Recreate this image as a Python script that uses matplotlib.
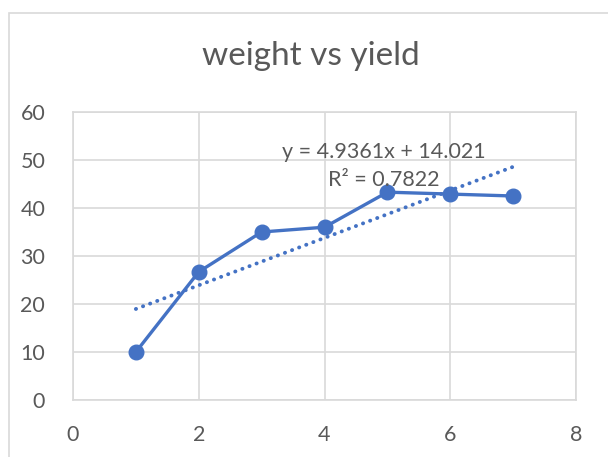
import matplotlib
matplotlib.use('Agg')
import matplotlib.pyplot as plt
from matplotlib.patches import Rectangle
import numpy as np

# data
weight = [1, 2, 3, 4, 5, 6, 7]
yield_ = [10, 26.7, 35, 36, 43.3, 42.9, 42.5]
xticks = [0, 2, 4, 6, 8]
yticks = [0, 10, 20, 30, 40, 50, 60]
eq_label = 'y = 4.9361x + 14.021'
r2_label = 'R² = 0.7822'

blue = '#4472C4'
grey_text = '#595959'
grid_col = '#D9D9D9'

plt.rcParams['font.family'] = ['Lato', 'DejaVu Sans']

fig = plt.figure(figsize=(6.08, 4.57), dpi=100)
# outer chart border, like the Excel chart frame
fig.patches.append(Rectangle((8.5 / 608, -0.01), 1.0, 1 - 12.5 / 457 + 0.01,
                             transform=fig.transFigure, fill=False,
                             edgecolor='#D9D9D9', linewidth=1.2))

ax = fig.add_axes([73 / 608, 1 - 400 / 457, (576 - 73) / 608, (400 - 112) / 457])

# linear trendline
slope, intercept = np.polyfit(weight, yield_, 1)
xt = np.array([weight[0], weight[-1]])
ax.plot(xt, slope * xt + intercept, color=blue, linewidth=2.8,
        linestyle=(0, (0.05, 1.9)), dash_capstyle='round', zorder=3)

ax.plot(weight, yield_, color=blue, linewidth=2.4, marker='o',
        markersize=10.5, zorder=4)

ax.set_xlim(0, 8)
ax.set_ylim(0, 60)
ax.set_xticks(xticks)
ax.set_yticks(yticks)
ax.grid(True, color=grid_col, linewidth=1.2)
ax.set_axisbelow(True)
for s in ax.spines.values():
    s.set_color(grid_col)
    s.set_linewidth(1.2)
ax.tick_params(length=0, labelsize=15.5, colors=grey_text)
ax.tick_params(axis='x', pad=18)
ax.tick_params(axis='y', pad=20)

fig.text(311 / 608, 1 - 56 / 457, 'weight vs yield', ha='center', va='center',
         fontsize=24, color=grey_text)

ax.text(4.95, 51.7, eq_label, ha='center', va='center',
        fontsize=15.5, color=grey_text, zorder=5)
ax.text(4.95, 45.9, r2_label, ha='center', va='center', fontsize=15.5,
        color=grey_text, zorder=5)

fig.savefig('out.png', dpi=100)
